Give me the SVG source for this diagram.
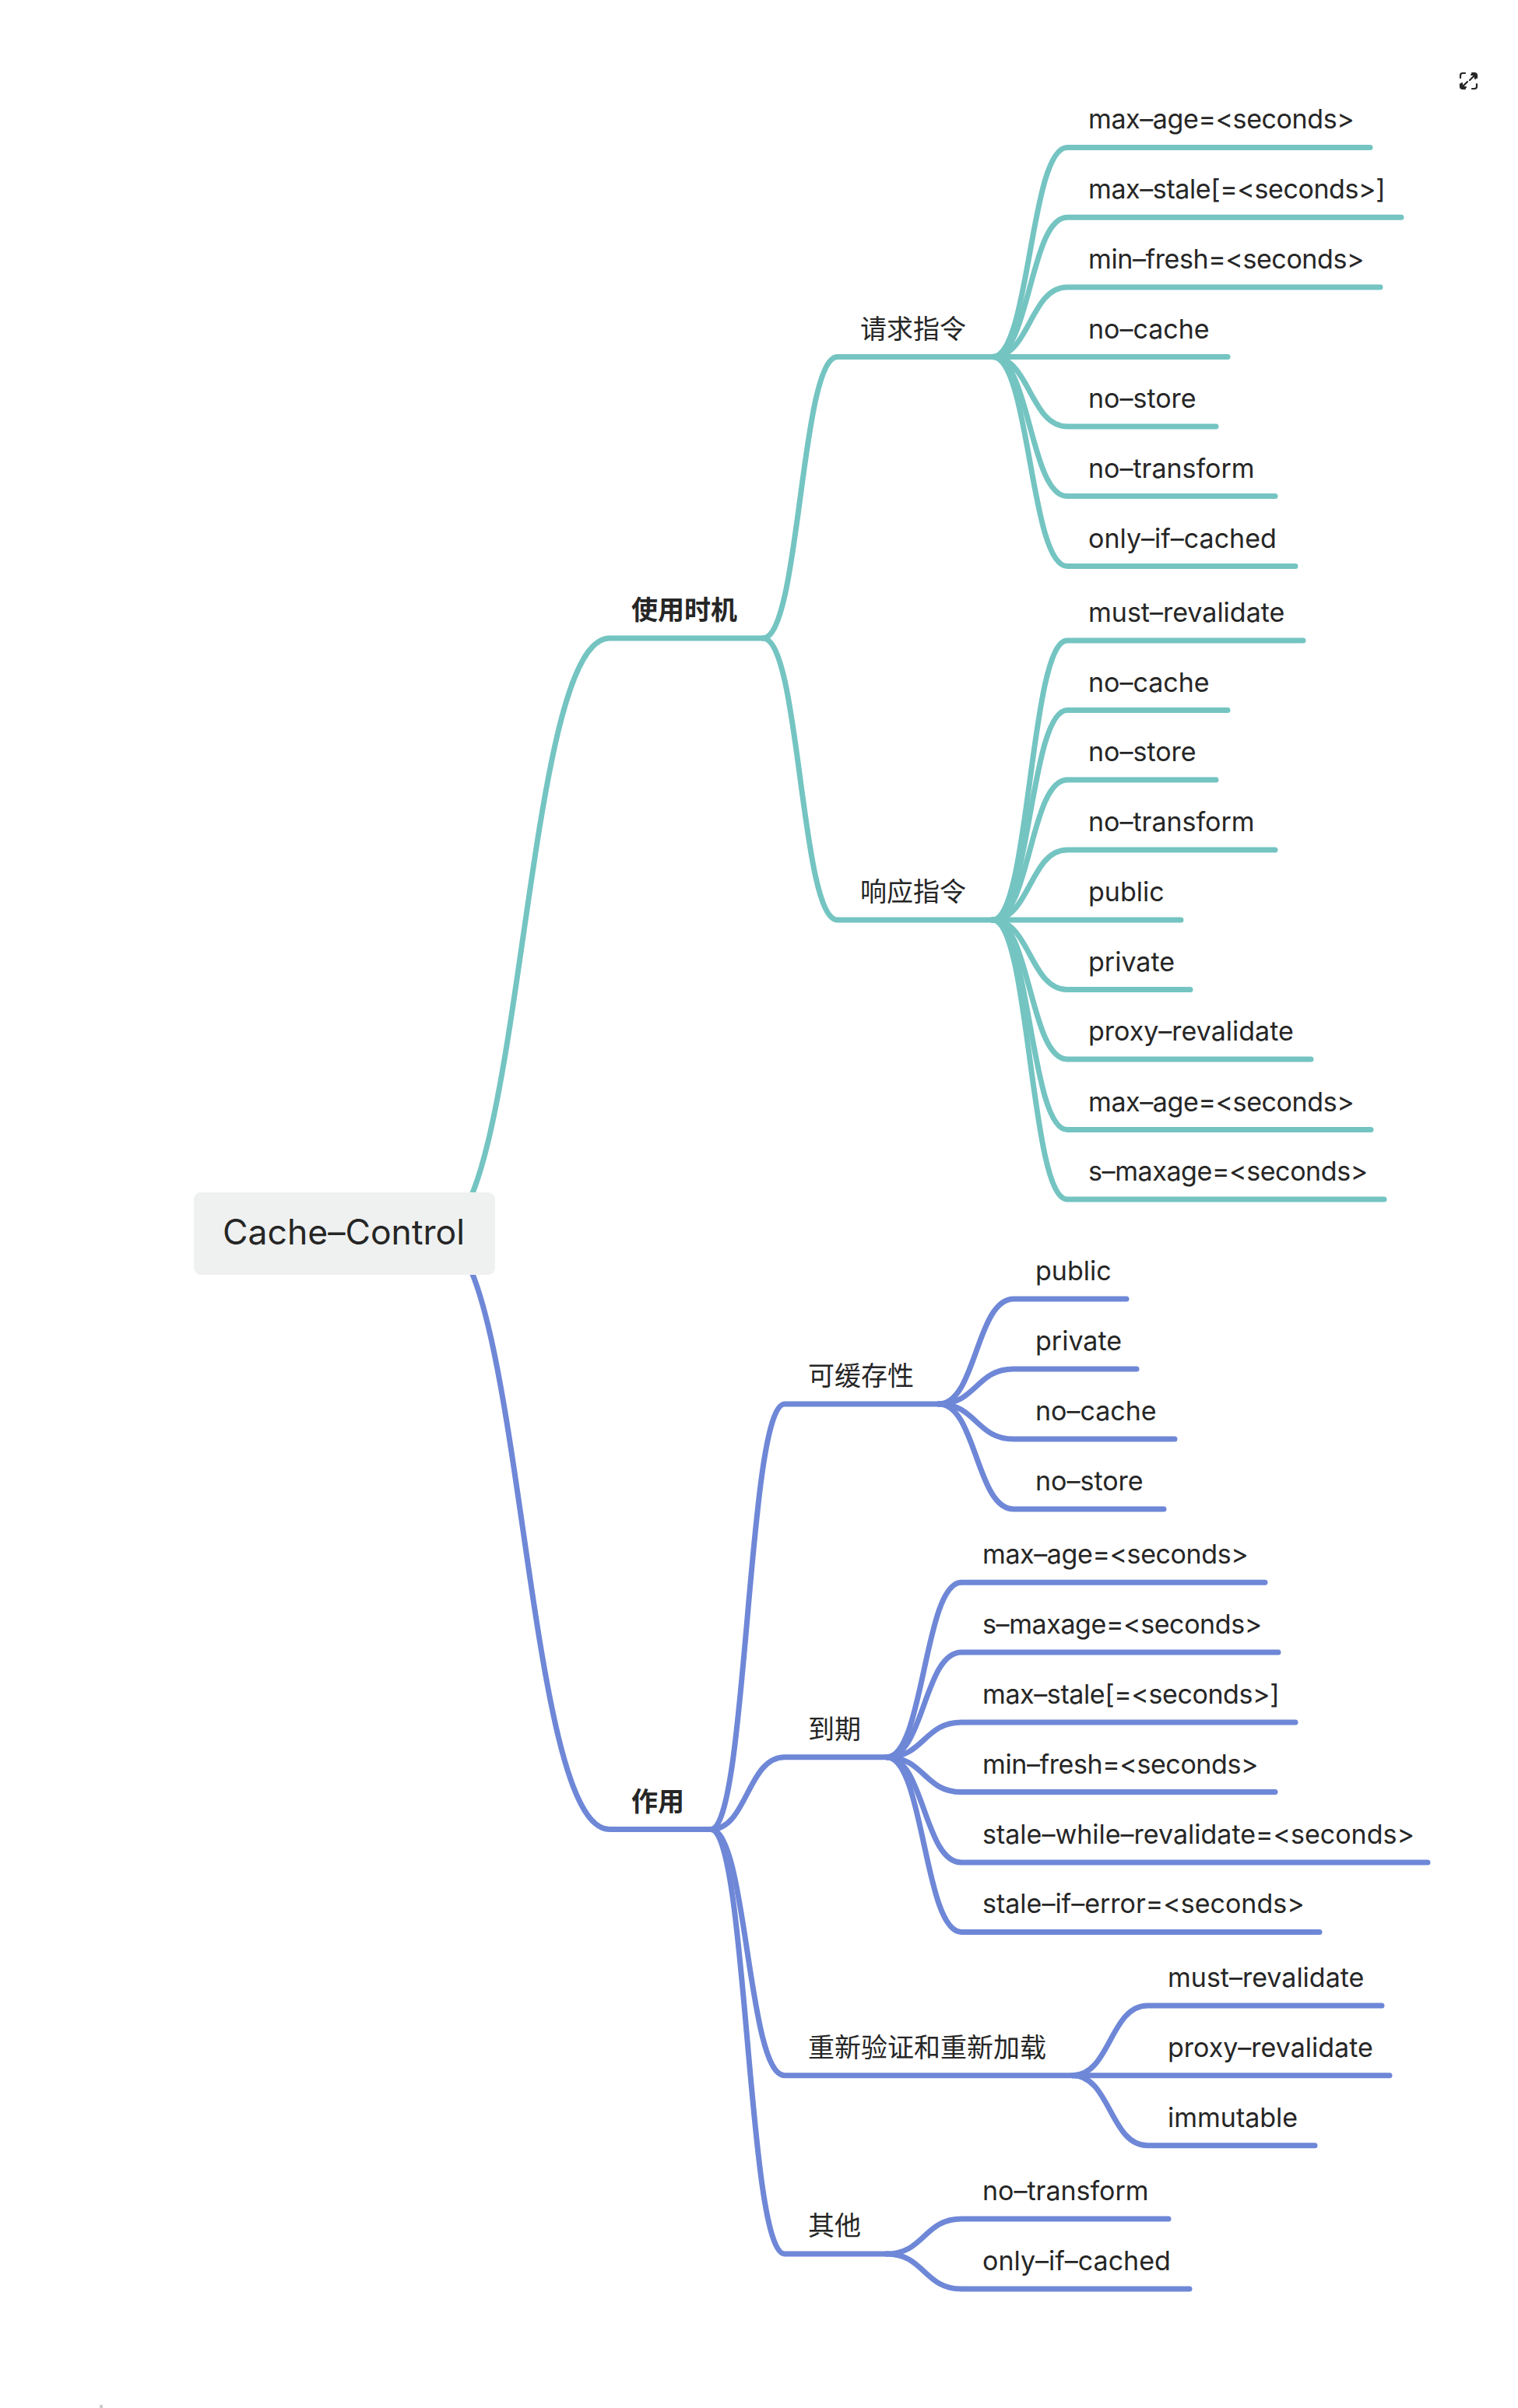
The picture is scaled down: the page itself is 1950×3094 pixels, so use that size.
<svg xmlns="http://www.w3.org/2000/svg" width="1950" height="3094" viewBox="0 0 1950 3094">
<style>
text{font-family:Inter,"Noto Sans CJK SC",sans-serif;font-size:34px;fill:#262626}
.s{letter-spacing:-.4px}
.b{font-weight:700}
.root{font-size:44.5px}
.c path{fill:none;stroke-width:7;stroke-linecap:round;stroke-linejoin:round}
.t path{stroke:#74c4c2}
.u path{stroke:#6e87d7}
</style>
<rect width="1950" height="3094" fill="#fff"/>
<g id="connectors" class="c">
<g class="t">
<path d="M562 1585C672 1585 672 820 783 820H980"/>
<path d="M980 820C1028 820 1028 458.6 1076 458.6H1275"/>
<path d="M980 820C1028 820 1028 1182 1076 1182H1275"/>
<path d="M1275 458.6C1323 458.6 1323 189.5 1371 189.5H1760"/>
<path d="M1275 458.6C1323 458.6 1323 279.3 1371 279.3H1800"/>
<path d="M1275 458.6C1323 458.6 1323 369 1371 369H1773"/>
<path d="M1275 458.6H1577"/>
<path d="M1275 458.6C1323 458.6 1323 548 1371 548H1562"/>
<path d="M1275 458.6C1323 458.6 1323 637.6 1371 637.6H1638"/>
<path d="M1275 458.6C1323 458.6 1323 727.6 1371 727.6H1664"/>
<path d="M1275 1182C1323 1182 1323 823 1371 823H1674"/>
<path d="M1275 1182C1323 1182 1323 912.5 1371 912.5H1577"/>
<path d="M1275 1182C1323 1182 1323 1002 1371 1002H1562"/>
<path d="M1275 1182C1323 1182 1323 1092 1371 1092H1638"/>
<path d="M1275 1182H1517"/>
<path d="M1275 1182C1323 1182 1323 1271.5 1371 1271.5H1529"/>
<path d="M1275 1182C1323 1182 1323 1361 1371 1361H1684"/>
<path d="M1275 1182C1323 1182 1323 1451.5 1371 1451.5H1761"/>
<path d="M1275 1182C1323 1182 1323 1541 1371 1541H1778"/>
</g>
<g class="u">
<path d="M562 1585C672 1585 672 2350.6 783 2350.6H913"/>
<path d="M913 2350.6C960 2350.6 960 1804 1008 1804H1206"/>
<path d="M913 2350.6C960 2350.6 960 2257.7 1008 2257.7H1139"/>
<path d="M913 2350.6C960 2350.6 960 2666.7 1008 2666.7H1378"/>
<path d="M913 2350.6C960 2350.6 960 2896 1008 2896H1139"/>
<path d="M1206 1804C1254 1804 1254 1669 1302 1669H1447"/>
<path d="M1206 1804C1254 1804 1254 1759 1302 1759H1460"/>
<path d="M1206 1804C1254 1804 1254 1849 1302 1849H1509"/>
<path d="M1206 1804C1254 1804 1254 1939 1302 1939H1495"/>
<path d="M1139 2257.7C1187 2257.7 1187 2033.3 1235 2033.3H1625"/>
<path d="M1139 2257.7C1187 2257.7 1187 2123 1235 2123H1642"/>
<path d="M1139 2257.7C1187 2257.7 1187 2213 1235 2213H1664"/>
<path d="M1139 2257.7C1187 2257.7 1187 2302.6 1235 2302.6H1638"/>
<path d="M1139 2257.7C1187 2257.7 1187 2393 1235 2393H1834"/>
<path d="M1139 2257.7C1187 2257.7 1187 2482.4 1235 2482.4H1695"/>
<path d="M1378 2666.7C1426 2666.7 1426 2577 1474 2577H1775"/>
<path d="M1378 2666.7H1785"/>
<path d="M1378 2666.7C1426 2666.7 1426 2756.7 1474 2756.7H1689"/>
<path d="M1139 2896C1187 2896 1187 2851 1235 2851H1501"/>
<path d="M1139 2896C1187 2896 1187 2941 1235 2941H1528"/>
</g>
</g>
<g id="root"><rect x="249" y="1532" width="387" height="106" rx="9" fill="#eff1f0"/><text class="root" x="286" y="1599">Cache–Control</text></g>
<g id="n1"><text class="b" x="811" y="796">使用时机</text></g>
<g id="n2"><text x="1105" y="435">请求指令</text></g>
<g id="n3"><text x="1105" y="1158">响应指令</text></g>
<g id="a1"><text class="s" x="1398" y="165">max–age=&lt;seconds&gt;</text></g>
<g id="a2"><text class="s" x="1398" y="255">max–stale[=&lt;seconds&gt;]</text></g>
<g id="a3"><text class="s" x="1398" y="345">min–fresh=&lt;seconds&gt;</text></g>
<g id="a4"><text x="1398" y="434.6">no–cache</text></g>
<g id="a5"><text x="1398" y="524">no–store</text></g>
<g id="a6"><text x="1398" y="613.6">no–transform</text></g>
<g id="a7"><text x="1398" y="703.6">only–if–cached</text></g>
<g id="b1"><text x="1398" y="799">must–revalidate</text></g>
<g id="b2"><text x="1398" y="888.5">no–cache</text></g>
<g id="b3"><text x="1398" y="978">no–store</text></g>
<g id="b4"><text x="1398" y="1068">no–transform</text></g>
<g id="b5"><text x="1398" y="1158">public</text></g>
<g id="b6"><text x="1398" y="1247.5">private</text></g>
<g id="b7"><text x="1398" y="1337">proxy–revalidate</text></g>
<g id="b8"><text class="s" x="1398" y="1427.5">max–age=&lt;seconds&gt;</text></g>
<g id="b9"><text class="s" x="1398" y="1517">s–maxage=&lt;seconds&gt;</text></g>
<g id="n4"><text class="b" x="811" y="2327">作用</text></g>
<g id="n5"><text x="1038" y="1780">可缓存性</text></g>
<g id="n6"><text x="1038" y="2234">到期</text></g>
<g id="n7"><text x="1038" y="2643">重新验证和重新加载</text></g>
<g id="n8"><text x="1038" y="2872">其他</text></g>
<g id="c1"><text x="1330" y="1645">public</text></g>
<g id="c2"><text x="1330" y="1735">private</text></g>
<g id="c3"><text x="1330" y="1825">no–cache</text></g>
<g id="c4"><text x="1330" y="1915">no–store</text></g>
<g id="d1"><text class="s" x="1262" y="2009.3">max–age=&lt;seconds&gt;</text></g>
<g id="d2"><text class="s" x="1262" y="2099">s–maxage=&lt;seconds&gt;</text></g>
<g id="d3"><text class="s" x="1262" y="2189">max–stale[=&lt;seconds&gt;]</text></g>
<g id="d4"><text class="s" x="1262" y="2278.6">min–fresh=&lt;seconds&gt;</text></g>
<g id="d5"><text x="1262" y="2369">stale–while–revalidate=&lt;seconds&gt;</text></g>
<g id="d6"><text x="1262" y="2458.4">stale–if–error=&lt;seconds&gt;</text></g>
<g id="e1"><text x="1500" y="2553">must–revalidate</text></g>
<g id="e2"><text x="1500" y="2642.7">proxy–revalidate</text></g>
<g id="e3"><text x="1500" y="2732.7">immutable</text></g>
<g id="f1"><text x="1262" y="2827">no–transform</text></g>
<g id="f2"><text x="1262" y="2917">only–if–cached</text></g>
<g id="expand" fill="none" stroke="#262626" stroke-width="2.2" stroke-linecap="round" stroke-linejoin="round">
<path d="M1876 100V97Q1876 94 1879 94H1882M1891 94H1894Q1897 94 1897 97V100M1897 108V111Q1897 114 1894 114H1891M1882 114H1879Q1876 114 1876 111V108"/>
<path d="M1890 96H1895V101M1895 96L1888 103M1883 112H1878V107M1878 112L1885 105"/>
</g>
<rect x="128" y="3090" width="4" height="4" fill="#ccc"/>
</svg>
